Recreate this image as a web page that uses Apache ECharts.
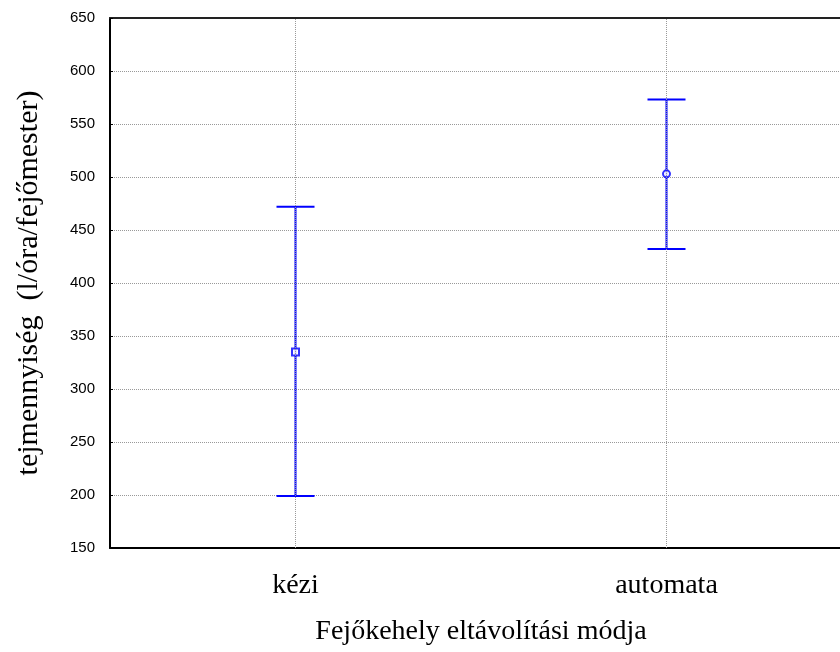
<!DOCTYPE html>
<html>
<head>
<meta charset="utf-8">
<script src="https://cdn.jsdelivr.net/npm/echarts@6/dist/echarts.min.js"></script>
<style>
  html, body { margin: 0; padding: 0; background: #fff; }
  #chart { width: 840px; height: 652px; }
</style>
</head>
<body>
<div id="chart"></div>
<script>
  // adatok
  const categories = ['kézi', 'automata'];
  const means = [335, 503];
  const lower = [199, 432];
  const upper = [472, 573];
  const markers = ['rect', 'circle'];

  const blue = '#0000ff';
  const serif = '"Liberation Serif", "DejaVu Serif", serif';

  const chart = echarts.init(document.getElementById('chart'));

  const option = {
    animation: false,
    grid: { left: 110, top: 18, bottom: 104, right: -12, outerBoundsMode: 'none', containLabel: false },
    xAxis: [{
      type: 'category',
      data: categories,
      position: 'bottom',
      boundaryGap: true,
      name: 'Fejőkehely eltávolítási módja',
      nameLocation: 'middle',
      nameGap: 70,
      nameTextStyle: { fontFamily: serif, fontSize: 28, color: '#000' },
      axisLine: { lineStyle: { color: '#000', width: 2 } },
      axisTick: { alignWithLabel: true, inside: true, length: 4, lineStyle: { color: '#000' } },
      axisLabel: { fontFamily: serif, fontSize: 28, color: '#000', margin: 24 },
      splitLine: { show: false }
    }, {
      type: 'category',
      data: categories,
      position: 'top',
      boundaryGap: true,
      axisLine: { lineStyle: { color: '#222', width: 2 } },
      axisTick: { alignWithLabel: true, inside: true, length: 4, lineStyle: { color: '#000' } },
      axisLabel: { show: false },
      splitLine: { show: false }
    }],
    yAxis: {
      type: 'value',
      min: 150,
      max: 650,
      interval: 50,
      name: 'tejmennyiség  (l/óra/fejőmester)',
      nameLocation: 'middle',
      nameRotate: 90,
      nameGap: 66,
      nameTextStyle: { fontFamily: serif, fontSize: 30, color: '#000' },
      axisLine: { show: true, lineStyle: { color: '#000', width: 2 } },
      axisTick: { show: true, inside: true, length: 3, lineStyle: { color: '#000' } },
      axisLabel: { fontFamily: '"Liberation Sans", Arial, sans-serif', fontSize: 15, color: '#000', margin: 15 },
      splitLine: { show: true, lineStyle: { color: '#999', type: 'dotted', width: 1 } }
    },
    series: [{
      // fuggoleges racsvonalak a kategoriaknal
      type: 'line',
      data: [],
      silent: true,
      markLine: {
        symbol: 'none',
        silent: true,
        label: { show: false },
        lineStyle: { color: '#999', type: 'dotted', width: 1 },
        data: categories.map(c => ({ xAxis: c }))
      }
    }, {
      type: 'custom',
      z: 3,
      data: categories.map((c, i) => [i, lower[i], upper[i]]),
      renderItem: function (params, api) {
        const lo = api.coord([api.value(0), api.value(1)]);
        const hi = api.coord([api.value(0), api.value(2)]);
        const half = 19;
        const style = { stroke: blue, lineWidth: 2 };
        return {
          type: 'group',
          children: [
            { type: 'line', shape: { x1: lo[0], y1: lo[1], x2: hi[0], y2: hi[1] }, style: style },
            { type: 'line', shape: { x1: lo[0] - half, y1: lo[1], x2: lo[0] + half, y2: lo[1] }, style: style },
            { type: 'line', shape: { x1: hi[0] - half, y1: hi[1], x2: hi[0] + half, y2: hi[1] }, style: style }
          ]
        };
      }
    }, {
      type: 'scatter',
      z: 4,
      data: means.map((m, i) => ({ value: [i, m], symbol: markers[i] })),
      symbolSize: 7,
      itemStyle: { color: '#fff', borderColor: blue, borderWidth: 2 }
    }]
  };

  chart.setOption(option);
</script>
</body>
</html>
